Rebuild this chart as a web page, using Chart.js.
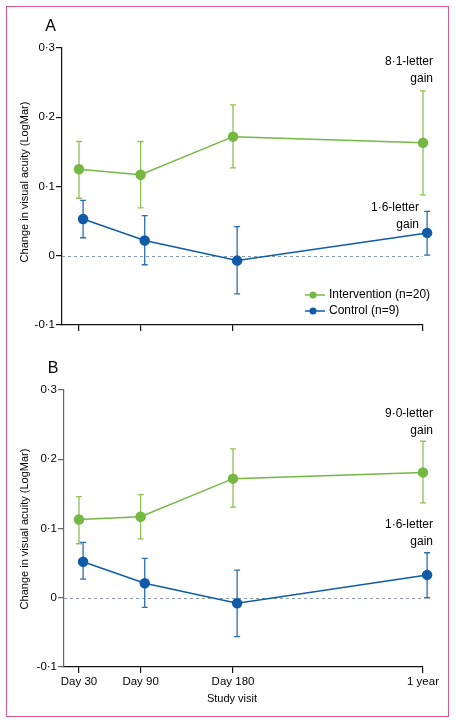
<!DOCTYPE html>
<html>
<head>
<meta charset="utf-8">
<script src="https://cdn.jsdelivr.net/npm/chart.js@4.4.1/dist/chart.umd.min.js"></script>
<style>
  html, body { margin: 0; padding: 0; background: #fff; }
  body { width: 456px; height: 723px; position: relative; overflow: hidden; }
  .frame { position: absolute; left: 6px; top: 6px; width: 441px; height: 709px; border: 1.5px solid #d9578c; }
  .panel { position: absolute; left: 0; width: 456px; }
  #panelA { top: 0; height: 360px; }
  #panelB { top: 360px; height: 363px; }
</style>
</head>
<body>
<div class="frame"></div>
<div class="panel" id="panelA"><canvas id="chartA"></canvas></div>
<div class="panel" id="panelB"><canvas id="chartB"></canvas></div>
<script>
// ---- data ----
const visitDays = [30, 90, 180, 365];
const visitLabels = ['Day 30', 'Day 90', 'Day 180', '1 year'];
const yTicks = [-0.1, 0, 0.1, 0.2, 0.3];
const yTickLabels = ['-0·1', '0', '0·1', '0·2', '0·3'];
const seriesNames = ['Intervention (n=20)', 'Control (n=9)'];

// panel A: mean change and 95% CI
const interventionA = [0.125, 0.117, 0.172, 0.163];
const interventionA_lo = [0.083, 0.069, 0.127, 0.088];
const interventionA_hi = [0.165, 0.165, 0.218, 0.238];
const controlA = [0.053, 0.022, -0.007, 0.033];
const controlA_lo = [0.026, -0.013, -0.055, 0.001];
const controlA_hi = [0.080, 0.058, 0.042, 0.064];

// panel B
const interventionB = [0.113, 0.117, 0.172, 0.181];
const interventionB_lo = [0.078, 0.085, 0.131, 0.137];
const interventionB_hi = [0.146, 0.149, 0.215, 0.226];
const controlB = [0.052, 0.021, -0.008, 0.033];
const controlB_lo = [0.027, -0.014, -0.056, 0.000];
const controlB_hi = [0.080, 0.057, 0.040, 0.065];

const gainLabelsA = [['8·1-letter', 'gain'], ['1·6-letter', 'gain']];
const gainLabelsB = [['9·0-letter', 'gain'], ['1·6-letter', 'gain']];

// ---- styles ----
const FONT = '"Liberation Sans", Arial, sans-serif';
const GREEN = '#74b843', GREEN_BAR = '#8cc157';
const BLUE = '#0f5ba8', BLUE_BAR = '#2c6db4';
const controlDodge = 4; // small horizontal shift so bars do not overlap

Chart.defaults.font.family = FONT;
Chart.defaults.font.size = 11;
Chart.defaults.color = '#000';

function text(ctx, str, x, y, size, align) {
  ctx.font = size + 'px ' + FONT;
  ctx.fillStyle = '#000';
  ctx.textAlign = align || 'center';
  ctx.textBaseline = 'middle';
  ctx.fillText(str, x, y);
}

const decor = {
  id: 'decor',
  beforeDatasetsDraw(chart, args, o) {
    const { ctx, chartArea, scales: { x, y } } = chart;
    ctx.save();
    // dashed zero line
    const y0 = Math.round(y.getPixelForValue(0)) + 0.5;
    ctx.strokeStyle = '#8898a8';
    ctx.lineWidth = 1;
    ctx.setLineDash([3, 3]);
    ctx.beginPath();
    ctx.moveTo(chartArea.left, y0);
    ctx.lineTo(chartArea.right, y0);
    ctx.stroke();
    ctx.setLineDash([]);
    // error bars
    chart.data.datasets.forEach(ds => {
      ctx.strokeStyle = ds.barColor;
      ctx.lineWidth = 1.3;
      ds.data.forEach((p, i) => {
        const px = x.getPixelForValue(p.x);
        const top = y.getPixelForValue(ds.hi[i]);
        const bot = y.getPixelForValue(ds.lo[i]);
        ctx.beginPath();
        ctx.moveTo(px, top); ctx.lineTo(px, bot);
        ctx.moveTo(px - 3, top); ctx.lineTo(px + 3, top);
        ctx.moveTo(px - 3, bot); ctx.lineTo(px + 3, bot);
        ctx.stroke();
      });
    });
    ctx.restore();
  },
  afterDraw(chart, args, o) {
    const { ctx, scales: { x, y } } = chart;
    ctx.save();
    text(ctx, o.letter, o.letterX, o.letterY, 16);

    // y axis title
    ctx.save();
    ctx.translate(25, o.yTitleY);
    ctx.rotate(-Math.PI / 2);
    text(ctx, 'Change in visual acuity (LogMar)', 0, 0, 11);
    ctx.restore();

    if (o.xTitle) text(ctx, o.xTitle, 232, o.xTitleY, 11);

    // letter-gain notes at 1 year
    chart.data.datasets.forEach((ds, k) => {
      const last = ds.data.length - 1;
      const px = x.getPixelForValue(visitDays[last]);
      const top = y.getPixelForValue(ds.hi[last]);
      const pos = o.notePos[k];
      const lines = o.notes[k];
      lines.forEach((s, j) => {
        text(ctx, s, px + pos.dx, top + pos.dy - (lines.length - 1 - j) * 17, 12, 'right');
      });
    });

    // legend
    if (o.legend) {
      chart.data.datasets.forEach((ds, k) => {
        const ly = o.legend.y + k * 16;
        ctx.strokeStyle = ds.borderColor;
        ctx.lineWidth = 1.5;
        ctx.beginPath();
        ctx.moveTo(o.legend.x, ly);
        ctx.lineTo(o.legend.x + 20, ly);
        ctx.stroke();
        ctx.fillStyle = ds.backgroundColor;
        ctx.beginPath();
        ctx.arc(o.legend.x + 8, ly, 3.5, 0, Math.PI * 2);
        ctx.fill();
        text(ctx, ds.label, o.legend.x + 24, ly, 12, 'left');
      });
    }
    ctx.restore();
  }
};

function makeChart(id, cfg) {
  const pts = (vals, dodge) => visitDays.map((d, i) => ({ x: d + dodge, y: vals[i] }));
  return new Chart(document.getElementById(id), {
    type: 'line',
    data: {
      datasets: [
        {
          label: seriesNames[0],
          data: pts(cfg.interv, 0),
          lo: cfg.intervLo, hi: cfg.intervHi,
          borderColor: GREEN, backgroundColor: GREEN, barColor: GREEN_BAR,
          borderWidth: 1.5, pointRadius: 4.5, pointHoverRadius: 4.5, clip: false
        },
        {
          label: seriesNames[1],
          data: pts(cfg.control, controlDodge),
          lo: cfg.controlLo, hi: cfg.controlHi,
          borderColor: BLUE, backgroundColor: BLUE, barColor: BLUE_BAR,
          borderWidth: 1.5, pointRadius: 4.5, pointHoverRadius: 4.5, clip: false
        }
      ]
    },
    options: {
      responsive: true,
      maintainAspectRatio: false,
      animation: false,
      events: [],
      layout: { padding: { left: 0, top: cfg.top, right: 33, bottom: 0 } },
      scales: {
        x: {
          type: 'linear',
          min: cfg.xMin, max: 365,
          afterFit: s => { s.height = cfg.xHeight; },
          afterBuildTicks: s => { s.ticks = visitDays.map(v => ({ value: v })); },
          border: { display: true, color: '#111', width: 1.2 },
          grid: { drawOnChartArea: false, drawTicks: true, tickLength: 6, color: '#111', lineWidth: 1.2 },
          ticks: {
            display: cfg.showXLabels, autoSkip: false, maxRotation: 0, padding: 2,
            font: { size: 11.5 },
            callback: (v, i) => visitLabels[i]
          }
        },
        y: {
          min: -0.1, max: 0.3,
          afterFit: s => { s.width = cfg.yWidth; },
          afterBuildTicks: s => { s.ticks = yTicks.map(v => ({ value: v })); },
          border: { display: true, color: cfg.yAxisColor, width: 1.2 },
          grid: { drawOnChartArea: false, drawTicks: true, tickLength: 6, color: cfg.yAxisColor, lineWidth: 1.2 },
          ticks: { padding: 1, font: { size: 11.5 }, callback: (v, i) => yTickLabels[i] }
        }
      },
      plugins: {
        legend: { display: false },
        tooltip: { enabled: false },
        decor: cfg.decor
      }
    },
    plugins: [decor]
  });
}

makeChart('chartA', {
  interv: interventionA, intervLo: interventionA_lo, intervHi: interventionA_hi,
  control: controlA, controlLo: controlA_lo, controlHi: controlA_hi,
  top: 48, xHeight: 35, yWidth: 62, xMin: 13.45, showXLabels: false, yAxisColor: '#111',
  decor: {
    letter: 'A', letterX: 50.5, letterY: 26.5, yTitleY: 182,
    notes: gainLabelsA,
    notePos: [{ dx: 10, dy: -12 }, { dx: -4, dy: 13 }],
    legend: { x: 305, y: 295 }
  }
});

makeChart('chartB', {
  interv: interventionB, intervLo: interventionB_lo, intervHi: interventionB_hi,
  control: controlB, controlLo: controlB_lo, controlHi: controlB_hi,
  top: 30, xHeight: 56, yWidth: 64, xMin: 15.4, showXLabels: true, yAxisColor: '#666',
  decor: {
    letter: 'B', letterX: 53, letterY: 8.5, yTitleY: 169,
    xTitle: 'Study visit', xTitleY: 339,
    notes: gainLabelsB,
    notePos: [{ dx: 10, dy: -11 }, { dx: 10, dy: -11 }]
  }
});
</script>
</body>
</html>
